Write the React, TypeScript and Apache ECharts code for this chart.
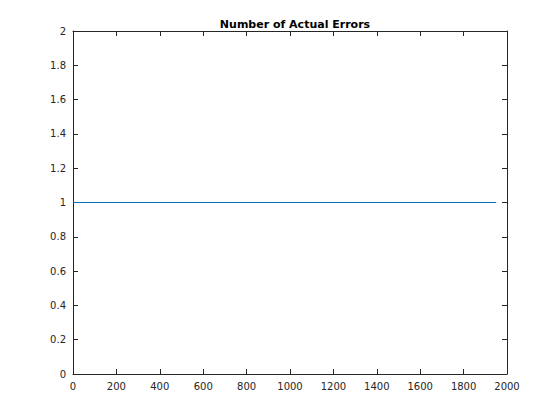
import React, { useEffect, useRef } from "react";
import * as echarts from "echarts";

const titleText = "Number of Actual Errors";
const xValues = [0, 1950];
const yValues = [1, 1];
const xMin = 0, xMax = 2000, xStep = 200;
const yMin = 0, yMax = 2, yStep = 0.2;

export default function App() {
  const ref = useRef<HTMLDivElement>(null);
  useEffect(() => {
    const chart = echarts.init(ref.current!, null, { renderer: "svg" });
    const axisColor = "#262626";
    const font = "DejaVu Sans";
    const baseX = {
      type: "value" as const, min: xMin, max: xMax, interval: xStep,
      axisLine: { show: true, onZero: false, lineStyle: { color: axisColor, width: 1 } },
      axisTick: { show: true, inside: true, length: 5, lineStyle: { color: axisColor } },
      splitLine: { show: false },
    };
    const baseY = {
      type: "value" as const, min: yMin, max: yMax, interval: yStep,
      axisLine: { show: true, onZero: false, lineStyle: { color: axisColor, width: 1 } },
      axisTick: { show: true, inside: true, length: 5, lineStyle: { color: axisColor } },
      splitLine: { show: false },
    };
    chart.setOption({
      animation: false,
      backgroundColor: "#ffffff",
      title: {
        text: titleText, left: 290, top: 14, textAlign: "center",
        textStyle: { fontFamily: font, fontSize: 11, fontWeight: "bold", color: "#000" },
      },
      grid: { left: 73, right: 53, top: 31, bottom: 46 },
      xAxis: [
        { ...baseX, position: "bottom",
          axisLabel: { color: axisColor, fontFamily: font, fontSize: 10, margin: 7,
            formatter: (v: number) => String(v) } },
        { ...baseX, position: "top", axisLabel: { show: false } },
      ],
      yAxis: [
        { ...baseY, position: "left",
          axisLabel: { color: axisColor, fontFamily: font, fontSize: 10, margin: 7,
            formatter: (v: number) => String(Math.round(v * 10) / 10) } },
        { ...baseY, position: "right", axisLabel: { show: false } },
      ],
      series: [{
        type: "line", xAxisIndex: 0, yAxisIndex: 0,
        data: xValues.map((x, i) => [x, yValues[i]]),
        showSymbol: false, lineStyle: { color: "#0072BD", width: 1 },
      }],
    });
    return () => chart.dispose();
  }, []);
  return <div ref={ref} style={{ width: 560, height: 420, position: "absolute", left: 0, top: 0 }} />;
}
